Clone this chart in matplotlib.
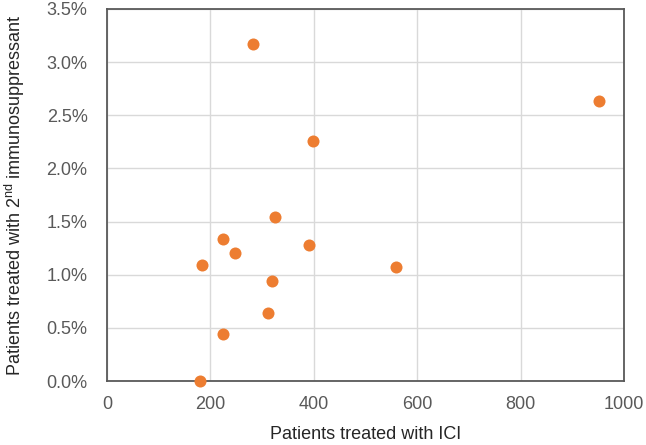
import matplotlib
matplotlib.use("Agg")
import matplotlib.pyplot as plt
from matplotlib.ticker import PercentFormatter

plt.rcParams['font.family'] = ['Liberation Sans', 'DejaVu Sans']
plt.rcParams['mathtext.fontset'] = 'custom'
plt.rcParams['mathtext.rm'] = 'Liberation Sans'

patients_ici = [283, 399, 325, 224, 248, 391, 183, 320, 312, 225, 179, 952, 559]
pct_second = [3.17, 2.26, 1.545, 1.34, 1.20, 1.28, 1.09, 0.94, 0.64, 0.445, 0.0, 2.63, 1.07]

x_ticks = [0, 200, 400, 600, 800, 1000]
y_ticks = [0.0, 0.5, 1.0, 1.5, 2.0, 2.5, 3.0, 3.5]

fig = plt.figure(figsize=(6.46, 4.45), dpi=100)
ax = fig.add_axes([0.1656, 0.1438, 0.8004, 0.836])
ax.scatter(patients_ici, pct_second, s=75, color='#ED7D31', zorder=3, clip_on=False, linewidths=0)
ax.set_xlim(0, 1000)
ax.set_ylim(0, 3.5)
ax.set_xticks(x_ticks)
ax.set_yticks(y_ticks)
ax.yaxis.set_major_formatter(PercentFormatter(decimals=1))
ax.grid(True, color='#D9D9D9', linewidth=1.0)
ax.set_axisbelow(True)
for sp in ax.spines.values():
    sp.set_color('#595959')
    sp.set_linewidth(1.3)
ax.tick_params(axis='both', length=0, labelsize=13, colors='#595959')
ax.tick_params(axis='y', pad=14)
ax.tick_params(axis='x', pad=11)
ax.set_xlabel('Patients treated with ICI', fontsize=13, color='#262626', labelpad=9)
ax.set_ylabel(r'Patients treated with 2$^{\rm nd}$ immunosuppressant', fontsize=13, color='#262626', labelpad=14)
fig.savefig('out.png', dpi=100)
